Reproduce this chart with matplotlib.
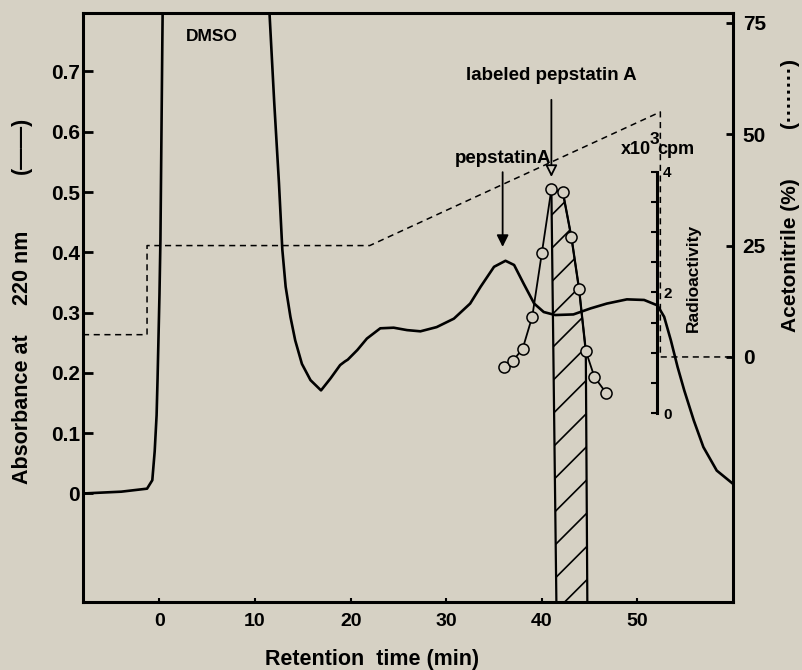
import matplotlib
matplotlib.use("Agg")
import matplotlib.pyplot as plt
from matplotlib.ticker import FixedLocator

# ---------------- data ----------------
# absorbance at 220 nm (solid line); values > 0.8 run off the top of the chart
abs_time = [-8, -4, -1.3, -0.75, -0.5, -0.3, -0.2, 0.0, 0.1, 0.3, 0.6, 11.0, 11.5,
            12.0, 12.5, 12.85, 13.2, 13.7, 14.2, 14.9, 15.8, 16.9, 17.9, 18.9, 19.4,
            19.7, 20.7, 21.7, 23.1, 24.5, 25.9, 27.3, 29.0, 30.8, 32.5, 33.6, 35.0,
            36.2, 37.1, 38.1, 39.2, 40.2, 41.4, 43.3, 45.1, 46.8, 48.9, 50.7, 52.1,
            52.8, 53.5, 54.2, 54.9, 55.9, 56.9, 58.3, 60.0]
abs_value = [0.0, 0.003, 0.008, 0.022, 0.07, 0.13, 0.19, 0.33, 0.42, 0.75, 1.2, 1.2, 0.80,
             0.65, 0.515, 0.405, 0.343, 0.293, 0.254, 0.215, 0.188, 0.171, 0.191, 0.213, 0.219,
             0.222, 0.238, 0.257, 0.274, 0.275, 0.271, 0.269, 0.276, 0.290, 0.315, 0.343, 0.376,
             0.386, 0.379, 0.348, 0.315, 0.301, 0.296, 0.297, 0.307, 0.315, 0.322, 0.321, 0.312,
             0.293, 0.254, 0.210, 0.171, 0.121, 0.077, 0.038, 0.016]

# acetonitrile gradient (dashed line), %
acn_time = [-8, -1.3, -1.3, 22.0, 52.4, 52.4, 60]
acn_pct = [5, 5, 25, 25, 55, 0, 0]

# radioactivity of fractions (open circles), x10^3 cpm
rad_time = [36.0, 37.0, 38.0, 39.0, 40.0, 41.0, 42.2, 43.1, 43.9, 44.6, 45.5, 46.7]
rad_kcpm = [0.76, 0.87, 1.07, 1.60, 2.65, 3.71, 3.66, 2.91, 2.05, 1.03, 0.60, 0.34]

# collected (hatched) fraction: top range on the radioactivity trace, base range
hatch_time = [41.0, 44.6]
hatch_base = [41.6, 44.8]

x_ticks = [0, 10, 20, 30, 40, 50]
abs_ticks = [0, 0.1, 0.2, 0.3, 0.4, 0.5, 0.6, 0.7]
abs_tick_labels = ["0", "0.1", "0.2", "0.3", "0.4", "0.5", "0.6", "0.7"]
acn_ticks = [0, 25, 50, 75]
rad_ticks = [0, 2, 4]
rad_minor_ticks = [0.5, 1.0, 1.5, 2.5, 3.0, 3.5]

# ---------------- style ----------------
BG = "#d6d1c4"
plt.rcParams["font.family"] = ["Liberation Sans", "DejaVu Sans"]
plt.rcParams["font.weight"] = "bold"
plt.rcParams["hatch.linewidth"] = 1.2

W, H = 802, 670
fig = plt.figure(figsize=(W / 100, H / 100), dpi=100, facecolor=BG)
ax = fig.add_axes([83 / W, (H - 602) / H, (733 - 83) / W, (602 - 13) / H])
ax.set_facecolor(BG)
ax.set_xlim(-8, 60)
ax.set_ylim(-0.18, 0.797)

# absorbance
ax.plot(abs_time, abs_value, color="black", lw=1.9, solid_joinstyle="round", zorder=3)

ax.set_xticks(x_ticks)
ax.set_yticks(abs_ticks)
ax.set_yticklabels(abs_tick_labels)
ax.tick_params(axis="y", direction="in", length=7, width=2, pad=2, labelsize=15)
ax.tick_params(axis="x", direction="in", length=3, width=1.5, pad=8, labelsize=14)
for s in ["left", "top", "bottom"]:
    ax.spines[s].set_linewidth(2.2)
ax.spines["right"].set_visible(False)

# acetonitrile
ax2 = ax.twinx()
ax2.set_ylim(-55, 77.2)
ax2.plot(acn_time, acn_pct, color="black", lw=1.1, ls=(0, (4, 3)), zorder=2)
ax2.set_yticks(acn_ticks)
ax2.tick_params(axis="y", direction="in", length=5, width=2, pad=7, labelsize=15)
for s in ["left", "top", "bottom"]:
    ax2.spines[s].set_visible(False)
ax2.spines["right"].set_linewidth(2.2)

# radioactivity
ax3 = ax.twinx()
ax3.set_ylim(-3.13, 6.63)
for s in ["left", "top", "bottom"]:
    ax3.spines[s].set_visible(False)
ax3.spines["right"].set_position(("data", 52.1))
ax3.spines["right"].set_bounds(0, 4)
ax3.spines["right"].set_linewidth(2.2)
ax3.yaxis.set_major_locator(FixedLocator(rad_ticks))
ax3.yaxis.set_minor_locator(FixedLocator(rad_minor_ticks))
ax3.tick_params(axis="y", which="both", direction="in", length=4, width=1.5, pad=4, labelsize=11)

ylow = ax3.get_ylim()[0] - 1
sel = [i for i, t in enumerate(rad_time) if hatch_time[0] <= t <= hatch_time[1]]
poly_x = [rad_time[i] for i in sel] + [hatch_base[1], hatch_base[0]]
poly_y = [rad_kcpm[i] for i in sel] + [ylow, ylow]
ax3.fill(poly_x, poly_y, facecolor="none", edgecolor="black", hatch="/", lw=1.6, zorder=3)

ax3.plot(rad_time, rad_kcpm, "-o", color="black", lw=1.3, ms=8, mfc=BG, mec="black",
         mew=1.1, zorder=4)

# annotations
ax.text(5.5, 0.758, "DMSO", fontsize=12.5, ha="center", va="center")
ax.text(41.0, 0.693, "labeled pepstatin A", fontsize=13.5, ha="center", va="center")
ax.text(35.9, 0.556, "pepstatinA", fontsize=13.5, ha="center", va="center")
ax.annotate("", xy=(41.0, 0.525), xytext=(41.0, 0.653),
            arrowprops=dict(arrowstyle="-|>,head_length=0.5,head_width=0.25", mutation_scale=14,
                            fc=BG, ec="black", lw=1.3, shrinkA=0, shrinkB=0))
ax.annotate("", xy=(35.9, 0.409), xytext=(35.9, 0.533),
            arrowprops=dict(arrowstyle="-|>,head_length=0.5,head_width=0.25", mutation_scale=14,
                            fc="black", ec="black", lw=1.3, shrinkA=0, shrinkB=0))
ax.text(51.4, 0.570, "x10", fontsize=13, ha="right", va="center")
ax.text(52.05, 0.570, "cpm", fontsize=13, ha="left", va="center")
ax.text(51.8, 0.587, "3", fontsize=12.5, ha="center", va="center")
ax.text(55.9, 0.357, "Radioactivity", fontsize=12.5, rotation=90, ha="center", va="center")

# axis titles
fig.text(372 / W, 1 - 660 / H, "Retention  time (min)", fontsize=15.5, ha="center", va="center")
fig.text(23 / W, 1 - 409 / H, "Absorbance at", fontsize=15.5, rotation=90, ha="center", va="center")
fig.text(23 / W, 1 - 268 / H, "220 nm", fontsize=15.5, rotation=90, ha="center", va="center")
fig.text(21 / W, 1 - 145 / H, "(\u2014\u2014)", fontsize=15.5, rotation=90, ha="center", va="center")
fig.text(790 / W, 1 - 255 / H, "Acetonitrile (%)", fontsize=15, rotation=90, ha="center", va="center")
fig.text(790 / W, 1 - 93 / H, "(\u00b7\u00b7\u00b7\u00b7\u00b7\u00b7\u00b7\u00b7)", fontsize=15, rotation=90,
         ha="center", va="center")

fig.savefig("out.png", dpi=100, facecolor=BG)
